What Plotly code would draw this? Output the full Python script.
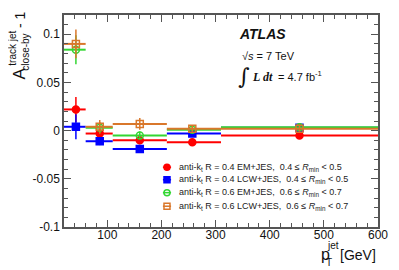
import plotly.graph_objects as go

# ---- data ----
bin_lo = [20, 60, 110, 210, 310]
bin_hi = [60, 110, 210, 310, 600]
pt_mean = [42, 86, 160, 257, 455]

series_names = [
    "anti-k<sub>t</sub> R = 0.4 EM+JES,\u00a0\u00a00.4 \u2264 <i>R</i><sub>min</sub> &lt; 0.5",
    "anti-k<sub>t</sub> R = 0.4 LCW+JES,\u00a0\u00a00.4 \u2264 <i>R</i><sub>min</sub> &lt; 0.5",
    "anti-k<sub>t</sub> R = 0.6 EM+JES,\u00a0\u00a00.6 \u2264 <i>R</i><sub>min</sub> &lt; 0.7",
    "anti-k<sub>t</sub> R = 0.6 LCW+JES,\u00a0\u00a00.6 \u2264 <i>R</i><sub>min</sub> &lt; 0.7",
]
em04 = [0.022, -0.003, -0.010, -0.012, -0.005]
em04_err = [0.013, 0.004, 0.004, 0.003, 0.003]
lcw04 = [0.004, -0.011, -0.019, -0.003, 0.003]
lcw04_err = [0.013, 0.004, 0.004, 0.002, 0.002]
em06 = [0.084, 0.003, -0.005, 0.001, 0.0035]
em06_err = [0.015, 0.006, 0.004, 0.003, 0.004]
lcw06 = [0.090, 0.004, 0.007, 0.002, 0.002]
lcw06_err = [0.015, 0.007, 0.006, 0.003, 0.003]

x_tickvals = [100, 200, 300, 400, 500, 600]
x_ticktext = ["100", "200", "300", "400", "500", "600"]
y_tickvals = [-0.1, -0.05, 0, 0.05, 0.1]
y_ticktext = ["-0.1", "-0.05", "0", "0.05", "0.1"]

# ---- styling ----
OFF = 8  # page body margin
W, H = 399 - OFF, 270 - OFF
L, T = 64 - OFF, 13 - OFF
R = W - (378 - OFF)
B = H - (227 - OFF)
PW, PH = W - L - R, H - T - B
FONT = "Liberation Sans, Arial, Helvetica, sans-serif"

colors = ["#ff0000", "#0000ff", "#33d633", "#d9772b"]
symbols = ["circle", "square", "circle-open", "square-open"]
values = [em04, lcw04, em06, lcw06]
errors = [em04_err, lcw04_err, em06_err, lcw06_err]

ex_plus = [h - m for h, m in zip(bin_hi, pt_mean)]
ex_minus = [m - l for l, m in zip(bin_lo, pt_mean)]

fig = go.Figure()
for name, c, s, v, e in zip(series_names, colors, symbols, values, errors):
    fig.add_trace(go.Scatter(
        x=pt_mean, y=v, mode="markers", name=name,
        marker=dict(symbol=s, color=c, size=7, line=dict(color=c, width=1.5)),
        error_x=dict(type="data", array=ex_plus, arrayminus=ex_minus,
                     color=c, thickness=2, width=0),
        error_y=dict(type="data", array=e, color=c, thickness=1.5, width=0),
        showlegend=False,
    ))

# legend keys on an overlay axis in fraction-of-plot units
leg_x = 0.328
leg_rows = [0.282, 0.223, 0.162, 0.098]
for name, c, s, yy in zip(series_names, colors, symbols, leg_rows):
    fig.add_trace(go.Scatter(
        x=[leg_x], y=[yy], xaxis="x2", yaxis="y2", mode="markers",
        marker=dict(symbol=s, color=c, size=6, line=dict(color=c, width=1.5)),
        error_x=dict(type="constant", value=0.013, color=c, thickness=1.5, width=0),
        showlegend=False, hoverinfo="skip",
    ))
    fig.add_annotation(x=leg_x + 0.032, y=yy, xref="x2", yref="y2",
                       text=name, showarrow=False, xanchor="left", yanchor="middle",
                       font=dict(size=9, family=FONT, color="#222"))

axis_common = dict(
    showgrid=False, zeroline=False, showline=True, linecolor="#555", linewidth=1.5,
    ticks="inside", ticklen=7, tickwidth=1, tickcolor="#555", mirror="ticks",
    tickfont=dict(size=12, family=FONT, color="#111"),
)
fig.update_xaxes(range=[20, 600], tickvals=x_tickvals, ticktext=x_ticktext,
                 minor=dict(dtick=20, ticks="inside", ticklen=4, tickcolor="#555"),
                 ticklabelstandoff=-4, **axis_common)
fig.update_yaxes(range=[-0.1, 0.12], tickvals=y_tickvals, ticktext=y_ticktext,
                 minor=dict(dtick=0.01, tick0=0, ticks="inside", ticklen=4, tickcolor="#555"),
                 **axis_common)

fig.update_layout(
    width=W, height=H, margin=dict(l=L, r=R, t=T, b=B),
    paper_bgcolor="white", plot_bgcolor="white",
    xaxis2=dict(range=[0, 1], overlaying="x", visible=False, domain=[0, 1]),
    yaxis2=dict(range=[0, 1], overlaying="y", visible=False, domain=[0, 1]),
    font=dict(family=FONT),
)

# helpers: positions given in reference-window pixels
def px(xp):
    return (xp - OFF - L) / PW

def py(yp):
    return (H - B - (yp - OFF)) / PH

def ann(text, xp, yp, size, xanchor="center", angle=0, family=FONT):
    fig.add_annotation(x=px(xp), y=py(yp), xref="paper", yref="paper", text=text,
                       showarrow=False, xanchor=xanchor, yanchor="middle",
                       textangle=angle, font=dict(size=size, family=family, color="#111"))

# ATLAS labels
ann("<b><i>ATLAS</i></b>", 237, 32, 14, xanchor="left")
ann("\u221a<i>s</i> = 7 TeV", 240, 54, 11, xanchor="left")
ann("\u222b", 244, 75, 22, family="DejaVu Serif, serif")
ann("<b><i>L dt</i></b>", 250, 76, 12, xanchor="left", family="Liberation Serif, Times New Roman, serif")
ann("= 4.7 fb<sup>-1</sup>", 276, 75, 11, xanchor="left")

# y-axis title pieces (rotated)
ann("A", 19, 72, 17, angle=-90)
ann("track jet", 13, 47, 10, angle=-90)
ann("close-by", 26, 51, 10, angle=-90)
ann("- 1", 20, 18, 14, angle=-90)

# x-axis title pieces
ann("p", 325, 255, 16)
ann("jet", 333, 246, 10)
ann("T", 329, 263, 10)
ann("[GeV]", 378, 255, 14, xanchor="right")

fig.write_html("out.html")
